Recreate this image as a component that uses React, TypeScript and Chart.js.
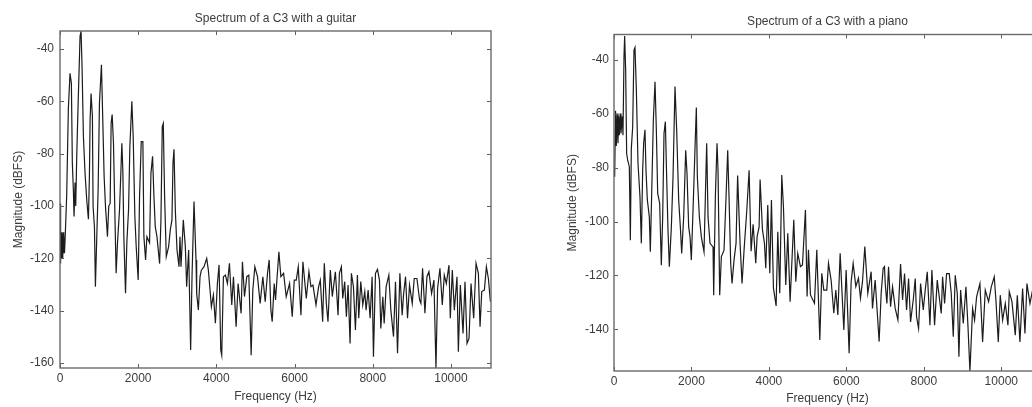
import React, { useEffect, useRef } from "react";
import { Chart, registerables } from "chart.js";

Chart.register(...registerables);

const xTickValues = [0, 2000, 4000, 6000, 8000, 10000];
const guitarYTicks = [-40, -60, -80, -100, -120, -140, -160];
const pianoYTicks = [-40, -60, -80, -100, -120, -140];

const guitarHz = [
  0, 10, 20, 30, 40, 50, 60, 70, 80, 90, 100, 115, 137, 171, 214, 256, 291, 316, 342, 359, 385, 402, 428, 462, 513, 539, 564, 599, 641, 684, 727, 752, 770, 795, 829, 846, 881, 906, 941, 975, 1009, 1060, 1094, 1129, 1163, 1214, 1248, 1283, 1308, 1334, 1368, 1411, 1436, 1471, 1522, 1556, 1582, 1607, 1633, 1676, 1710, 1753, 1787, 1838, 1872, 1915, 1949, 2000, 2035, 2078, 2120, 2146, 2189, 2223, 2291, 2326, 2368, 2403, 2437, 2480, 2548, 2582, 2616, 2642, 2676, 2719, 2779, 2822, 2864, 2890, 2916, 2950, 2993, 3044, 3069,
  3095, 3154, 3206, 3240, 3291, 3342, 3377, 3428, 3479, 3496, 3539, 3582, 3616, 3684, 3753, 3795, 3838, 3872, 3924, 3975, 4026, 4069, 4112, 4137, 4180, 4231, 4283, 4334, 4394, 4437, 4505, 4556, 4633, 4667, 4719, 4778, 4830, 4890, 4932, 4984, 5052, 5120, 5189, 5249, 5308, 5351, 5394, 5428, 5479, 5513, 5599, 5650, 5719, 5787, 5872, 5941, 5992, 6043, 6095, 6163, 6214, 6300, 6368, 6419, 6471, 6548, 6616, 6659, 6719, 6761, 6813, 6855, 6915, 6966,
  7044, 7087, 7112, 7147, 7198, 7232, 7283, 7326, 7369, 7420, 7454, 7506, 7557, 7608, 7642, 7694, 7745, 7796, 7830, 7882, 7933, 7984, 8018, 8070, 8121, 8172, 8206, 8258, 8292, 8343, 8412, 8463, 8531, 8582, 8634, 8694, 8753, 8787, 8839, 8890, 8941, 9010, 9061, 9130, 9198, 9232, 9275, 9335, 9386, 9437, 9505, 9565, 9617, 9659, 9719, 9779, 9830, 9882, 9950, 9984, 10035, 10087, 10155, 10190, 10241, 10309, 10360, 10412, 10463, 10514, 10582, 10642, 10702, 10745, 10788, 10856, 10907, 10958, 11010,
];
const guitarDb = [
  -99, -122, -110, -120, -110, -119, -111, -120, -110, -118, -111, -118, -110, -96, -62.6, -49.3, -53, -83.7, -94, -104, -91, -100, -81, -62, -35, -33.3, -46.7, -73.5, -87.5, -97.7, -105, -88.8, -67, -57, -65.8, -100, -108, -130.8, -111.7, -94, -60.7, -46, -67, -88.8, -100, -111.7, -100, -99, -68.4, -65, -76, -108, -125.7, -114, -101.5, -87.5, -76, -86, -111.7, -133.3, -114, -101.5, -77.3, -60, -73.5, -104, -115.5, -128.3, -96.4, -75.4, -75.4, -111.7, -120.6, -111.7, -114, -87.5, -81, -96.4, -108, -111.7, -122, -105.3, -69.6, -68.4, -96.4, -119.3, -115.5, -109, -105.3, -83.7, -78.3, -101.5, -116.8, -123.2, -111.7,
  -123.2, -105.3, -115.5, -130.8, -116.8, -155, -127, -98.3, -120.6, -133.4, -139.7, -127, -124.5, -123.2, -120, -124.5, -132.1, -138.5, -134, -144.8, -129.6, -122.5, -155, -157, -127, -126.4, -129.6, -121.9, -137.8, -127, -146.1, -129.6, -141, -121.3, -134.6, -127, -126.4, -157, -132.1, -123.2, -127, -137.2, -127, -136.6, -125.7, -120.6, -139.7, -144.2, -129.6, -135.9, -117.5, -127, -125.7, -134.6, -129.6, -142.3, -128.3, -128.3, -123.2, -141.7, -121.3, -135.3, -125.1, -130.8, -130.2, -137.8, -130.8, -128.3, -144.2, -121.9, -137.2, -144.2, -124.5, -134.6,
  -125.1, -135.3, -141.7, -125.7, -123.2, -135.3, -128.9, -142.3, -130.2, -152.5, -125.7, -130.8, -147.4, -126.4, -142.9, -128.9, -137.8, -132.7, -139.8, -132.1, -142.9, -127, -157.6, -125.7, -124.2, -128.3, -146.8, -134.7, -144.9, -130.8, -126.4, -139.8, -149.9, -128.9, -156.3, -125.7, -141.7, -134, -127, -142.9, -130.2, -137.2, -127.7, -127.7, -135.9, -137.2, -123.8, -141, -127, -125.1, -133.4, -128.3, -161.9, -131.5, -123.8, -137.8, -126.4, -129.6, -122.6, -142.9, -124.5, -139.8, -127, -155.7, -130.2, -148.7, -128.9, -152.5, -150.6, -129.6, -142.9, -121.9, -125.7, -146.1, -132.7, -132.1, -123.2, -127.7, -136.6,
];

const pianoHz = [
  0, 17, 40, 60, 80, 103, 120, 137, 160, 180, 215, 232, 258, 275, 301, 327, 353, 396, 422, 447, 482, 516, 542, 577, 620, 671, 706, 740, 766, 800, 826, 861, 912, 938, 973, 1016, 1059, 1093, 1128, 1179, 1222, 1257, 1291, 1326, 1351, 1394, 1429, 1481, 1524, 1575, 1618, 1670, 1713, 1748, 1799, 1851, 1885, 1928, 1963, 1997, 2049, 2101, 2126, 2152, 2204, 2255, 2324, 2359, 2393, 2428, 2479, 2557, 2574, 2617, 2660, 2686, 2729, 2772, 2841, 2893, 2936, 2970, 3013, 3048, 3099, 3151, 3192, 3255, 3306, 3358, 3428, 3488, 3540, 3592, 3660, 3695, 3747, 3772, 3833, 3884, 3919, 3970, 4022, 4065, 4117, 4186,
  4229, 4280, 4332, 4375, 4435, 4487, 4547, 4642, 4694, 4745, 4814, 4866, 4943, 4986, 5021, 5073, 5176, 5236, 5314, 5365, 5417, 5494, 5538, 5606, 5675, 5727, 5779, 5839, 5934, 5994, 6071, 6123, 6175, 6244, 6312, 6364, 6416, 6476, 6553, 6639, 6674, 6743, 6846, 6898, 6950, 6984,
  7003, 7046, 7089, 7141, 7192, 7261, 7330, 7399, 7451, 7502, 7554, 7606, 7657, 7726, 7778, 7812, 7864, 7916, 7985, 8036, 8088, 8157, 8208, 8277, 8346, 8449, 8484, 8536, 8587, 8656, 8708, 8760, 8811, 8863, 8906, 8949, 9018, 9087, 9138, 9190, 9259, 9310, 9362, 9448, 9517, 9586, 9672, 9741, 9818, 9861, 9922, 9973, 10034, 10103, 10171, 10206, 10275, 10361, 10413, 10481, 10550, 10611, 10662, 10740, 10800, 10900, 11025,
];
const pianoDb = [
  -80, -83.4, -59, -72, -60, -71, -61, -68, -60, -67.4, -61, -68, -39, -31.3, -43.9, -74.8, -77.3, -79.7, -106.9, -73, -65, -36.5, -35.5, -51.3, -78.5, -90.9, -108.1, -81, -71, -66, -81, -92, -98.3, -111.2, -89.6, -62.4, -48.2, -66, -89.6, -93.3, -116.2, -98.3, -67.4, -63, -78.5, -103.2, -116.8, -102, -83.4, -50, -66, -92, -102, -111.8, -98.3, -73.6, -82.2, -102, -105.7, -114.3, -92, -68.6, -57.8, -83.4, -98.3, -105.7, -111.2, -90.9, -71, -98.3, -108.1, -109.4, -127.3, -90.9, -71, -81, -127.3, -113, -110.6, -90.9, -73.6, -90.9, -115.5, -123, -114.3, -108.1, -83, -108.1, -123, -110.6, -96, -81, -111, -101, -115.5, -105.6, -102, -84.4, -103, -108, -117.3, -93.9, -119.2, -92, -124.7, -131.3,
  -103.8, -126.6, -82.8, -94.5, -123.5, -104.4, -129.7, -99.4, -122.3, -111.8, -116.7, -116.1, -95.7, -127.8, -110.5, -127.2, -130.3, -110.5, -143.9, -119.2, -125.4, -125.4, -115.5, -121.7, -134, -125.4, -134.6, -111.8, -140.2, -118, -148.8, -122.3, -115.5, -124.1, -121, -128.4, -122.3, -109.3, -126.6, -118.6, -132.2, -121.7, -144.5, -126.6, -117.3, -116.7,
  -123, -130.4, -116.8, -131.6, -124.2, -132.2, -136.5, -115.8, -129.1, -119.3, -132.8, -121.1, -137.2, -129.1, -121.1, -135.3, -139.6, -123, -132.8, -125.4, -118.6, -138.4, -118, -138.4, -121.7, -134.1, -120.5, -130.4, -119.3, -119.3, -126.7, -142.7, -119.9, -126.7, -150.1, -125.4, -137.8, -124.2, -138.4, -155.4, -132.2, -136.5, -127.9, -123, -144.6, -125.4, -129.7, -124.2, -120.5, -129.1, -144.6, -127.3, -136.5, -130.4, -138.4, -126, -129.7, -142.1, -127.3, -144.6, -124.8, -141.5, -123, -130.4, -126, -132, -130,
];

const FONT = "'Liberation Sans', Arial, sans-serif";
const TEXT = "#3c3c3c";

const framePlugin = {
  id: "matlabFrame",
  afterDatasetsDraw(chart: any) {
    const { ctx, chartArea: a, scales } = chart;
    ctx.save();
    ctx.strokeStyle = "#5f5f5f";
    ctx.lineWidth = 1;
    ctx.beginPath();
    for (const t of scales.x.ticks) {
      const x = Math.round(scales.x.getPixelForValue(t.value)) + 0.5;
      ctx.moveTo(x, a.top); ctx.lineTo(x, a.top + 4);
      ctx.moveTo(x, a.bottom); ctx.lineTo(x, a.bottom - 4);
    }
    for (const t of scales.y.ticks) {
      const y = Math.round(scales.y.getPixelForValue(t.value)) + 0.5;
      ctx.moveTo(a.left, y); ctx.lineTo(a.left + 4, y);
      ctx.moveTo(a.right, y); ctx.lineTo(a.right - 4, y);
    }
    ctx.stroke();
    ctx.strokeStyle = "#6a6a6a";
    ctx.lineWidth = 1.4;
    ctx.strokeRect(a.left, a.top, a.right - a.left, a.bottom - a.top);
    ctx.restore();
  },
};

type PanelProps = {
  title: string;
  hz: number[];
  db: number[];
  yTicks: number[];
  yMin: number;
  yMax: number;
  left: number;
  width: number;
  yAxisWidth: number;
  xAxisHeight: number;
  paddingRight: number;
  titleTop: number;
  titleBottom: number;
  yTitleOffset: number;
  xTitleBottom: number;
  yTickPad: number;
};

function Panel(p: PanelProps) {
  const ref = useRef<HTMLCanvasElement>(null);
  useEffect(() => {
    const chart = new Chart(ref.current!, {
      type: "line",
      data: {
        datasets: [
          {
            data: p.hz.map((x, i) => ({ x, y: p.db[i] })),
            borderColor: "#1c1c1c",
            borderWidth: 1.2,
            pointRadius: 0,
            tension: 0,
          },
        ],
      },
      options: {
        animation: false,
        responsive: false,
        layout: { padding: { left: 0, right: p.paddingRight, top: 0, bottom: 0 } },
        plugins: {
          legend: { display: false },
          tooltip: { enabled: false },
          title: {
            display: true,
            text: p.title,
            fullSize: false,
            color: TEXT,
            font: { family: FONT, size: 12, weight: "normal" },
            padding: { top: p.titleTop, bottom: p.titleBottom },
          },
        },
        scales: {
          x: {
            type: "linear",
            min: 0,
            max: 11025,
            grid: { display: false, drawTicks: false },
            border: { display: false },
            afterBuildTicks: (s: any) => { s.ticks = xTickValues.map((value) => ({ value })); },
            afterFit: (s: any) => { s.height = p.xAxisHeight; },
            ticks: { color: TEXT, padding: 3, maxRotation: 0, autoSkip: false, font: { family: FONT, size: 12 }, callback: (v: any) => String(v) },
            title: { display: true, text: "Frequency (Hz)", color: TEXT, font: { family: FONT, size: 12 }, padding: { top: 0, bottom: p.xTitleBottom } },
          },
          y: {
            type: "linear",
            min: p.yMin,
            max: p.yMax,
            grid: { display: false, drawTicks: false },
            border: { display: false },
            afterBuildTicks: (s: any) => { s.ticks = p.yTicks.map((value) => ({ value })); },
            afterFit: (s: any) => { s.width = p.yAxisWidth; },
            ticks: { color: TEXT, padding: p.yTickPad, autoSkip: false, font: { family: FONT, size: 12 }, callback: (v: any) => String(v) },
            title: { display: true, text: "Magnitude (dBFS)", color: TEXT, font: { family: FONT, size: 12 }, padding: { top: p.yTitleOffset, bottom: 0 } },
          },
        },
      },
      plugins: [framePlugin],
    } as any);
    return () => chart.destroy();
  }, []);
  return (
    <canvas
      ref={ref}
      width={p.width}
      height={407}
      style={{ position: "absolute", left: p.left, top: 0, width: p.width, height: 407 }}
    />
  );
}

export default function App() {
  return (
    <div style={{ position: "fixed", left: 0, top: 0, width: 1032, height: 407, overflow: "hidden", background: "#fff" }}>
      <Panel
        title="Spectrum of a C3 with a guitar"
        hz={guitarHz}
        db={guitarDb}
        yTicks={guitarYTicks}
        yMin={-161.9}
        yMax={-33.1}
        left={0}
        width={505}
        yAxisWidth={60}
        xAxisHeight={39}
        paddingRight={14}
        titleTop={11.5}
        titleBottom={5.1}
        yTitleOffset={11.4}
        xTitleBottom={3.4}
        yTickPad={6}
      />
      <Panel
        title="Spectrum of a C3 with a piano"
        hz={pianoHz}
        db={pianoDb}
        yTicks={pianoYTicks}
        yMin={-155.4}
        yMax={-30.7}
        left={560}
        width={490}
        yAxisWidth={54}
        xAxisHeight={36}
        paddingRight={9}
        titleTop={14.5}
        titleBottom={5.6}
        yTitleOffset={5.4}
        xTitleBottom={1.4}
        yTickPad={5}
      />
    </div>
  );
}
